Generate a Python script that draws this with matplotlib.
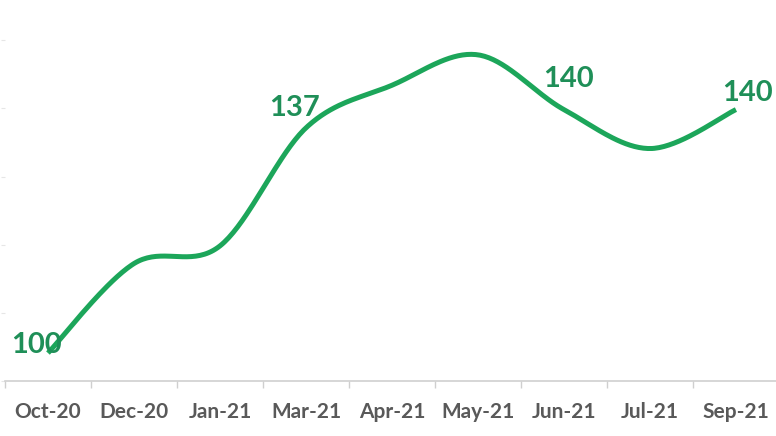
import numpy as np
import matplotlib
matplotlib.use('Agg')
import matplotlib.pyplot as plt

# --- データ ---
months = ["Oct-20", "Dec-20", "Jan-21", "Mar-21", "Apr-21",
          "May-21", "Jun-21", "Jul-21", "Sep-21"]
index_vals = [100, 114.7, 117.6, 137, 144, 149, 140, 133.6, 140]
label_idx = [0, 3, 6, 8]
label_offsets = [(-8, 6), (-8, 14), (3, 22), (8, 12)]  # points

LINE = '#1ca65a'
TXT = '#1f8f58'
GRAY = '#595959'
FONT = ['Lato', 'DejaVu Sans']


def excel_smooth(x, y, n=40):
    # Excel風のスムージング（Catmull-Rom → Bezier）
    px, py = [], []
    m = len(x)
    for i in range(m - 1):
        x0, y0 = x[max(i - 1, 0)], y[max(i - 1, 0)]
        x1, y1 = x[i], y[i]
        x2, y2 = x[i + 1], y[i + 1]
        x3, y3 = x[min(i + 2, m - 1)], y[min(i + 2, m - 1)]
        c1x, c1y = x1 + (x2 - x0) / 6, y1 + (y2 - y0) / 6
        c2x, c2y = x2 - (x3 - x1) / 6, y2 - (y3 - y1) / 6
        t = np.linspace(0, 1, n)
        bx = (1-t)**3*x1 + 3*(1-t)**2*t*c1x + 3*(1-t)*t**2*c2x + t**3*x2
        by = (1-t)**3*y1 + 3*(1-t)**2*t*c1y + 3*(1-t)*t**2*c2y + t**3*y2
        px.extend(bx)
        py.extend(by)
    return np.array(px), np.array(py)


x = np.arange(len(months))
sx, sy = excel_smooth(x, np.array(index_vals, dtype=float))

fig = plt.figure(figsize=(7.76, 4.36), dpi=100)
ax = fig.add_axes([0.0064, 0.1261, 0.9974, 0.8556])
ax.plot(sx, sy, color=LINE, linewidth=3.6, solid_capstyle='butt', clip_on=False)

for i, (dx, dy) in zip(label_idx, label_offsets):
    ax.annotate(f"{index_vals[i]:.0f}", (x[i], index_vals[i]),
                xytext=(dx, dy), textcoords='offset points',
                ha='center', va='center', fontsize=21, fontweight='bold',
                color=TXT, family=FONT)

ax.set_xlim(-0.5, len(months) - 0.5)
ax.set_ylim(95.4, 156.7)

ax.set_xticks(x)
ax.set_xticklabels(months, fontsize=15, fontweight='bold', color=GRAY,
                   family=FONT)
ax.set_xticks(np.arange(-0.5, len(months), 1), minor=True)
ax.tick_params(axis='x', which='major', length=0, pad=15)
ax.tick_params(axis='x', which='minor', length=5, color='#cfcfcf', width=1)

ax.set_yticks(np.arange(95.4, 156.7, 11.2))
ax.tick_params(axis='y', length=3, color='#e6e6e6', labelleft=False)

for s in ['top', 'right', 'left']:
    ax.spines[s].set_visible(False)
ax.spines['bottom'].set_color('#d0d0d0')
ax.spines['bottom'].set_linewidth(1.2)

fig.savefig("out.png", dpi=100)
plt.close(fig)
